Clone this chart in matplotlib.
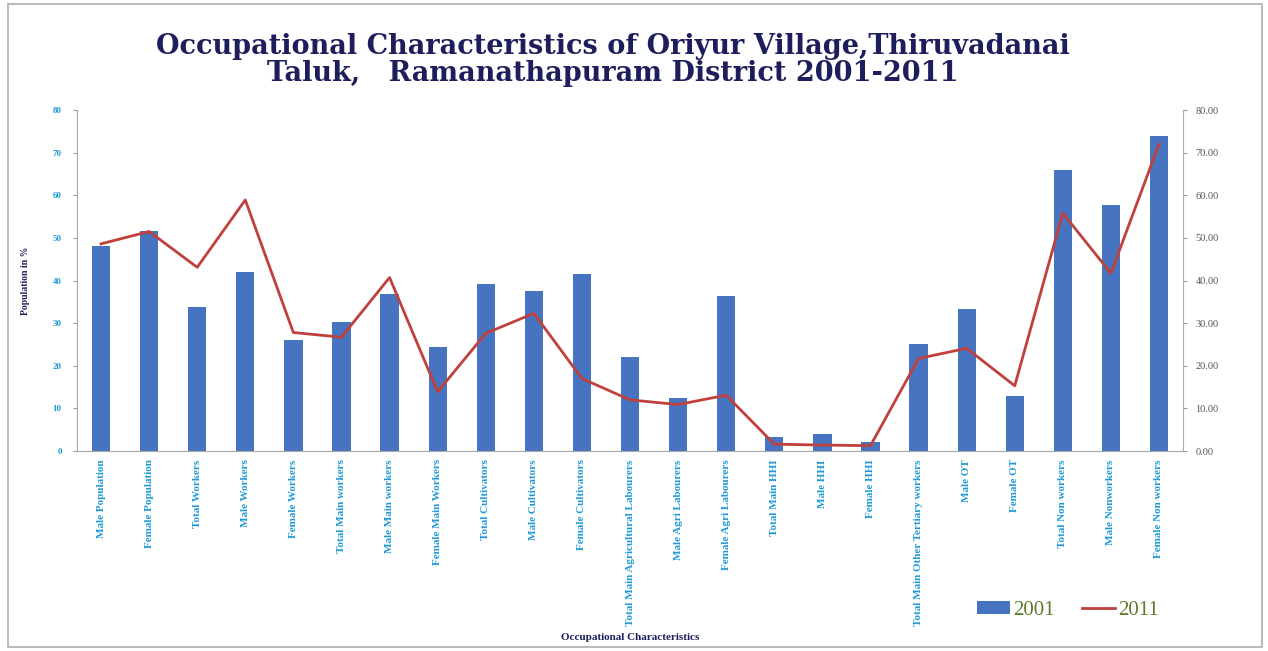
import matplotlib
import numpy as np

matplotlib.use("Agg")
import matplotlib.pyplot as plt
from matplotlib.lines import Line2D
from matplotlib.patches import Patch, Rectangle

CATEGORIES = [
    "Male Population",
    "Female Population",
    "Total Workers",
    "Male Workers",
    "Female Workers",
    "Total Main workers",
    "Male Main workers",
    "Female Main Workers",
    "Total Cultivators",
    "Male Cultivators",
    "Female Cultivators",
    "Total Main Agricultural Labourers",
    "Male Agri Labourers",
    "Female Agri Labourers",
    "Total Main HHI",
    "Male HHI",
    "Female HHI",
    "Total Main Other Tertiary workers",
    "Male OT",
    "Female OT",
    "Total Non workers",
    "Male Nonworkers",
    "Female Non workers",
]

VALUES_2001 = [48.2, 51.6, 33.9, 42.1, 26.0, 30.3, 36.8, 24.3, 39.1, 37.6, 41.5, 22.0,
               12.5, 36.4, 3.2, 3.9, 2.2, 25.1, 33.4, 12.9, 65.9, 57.7, 73.9]
VALUES_2011 = [48.6, 51.5, 43.1, 58.9, 27.8, 26.7, 40.7, 13.9, 27.6, 32.3, 17.0, 12.0,
               10.9, 13.1, 1.6, 1.4, 1.25, 21.7, 24.1, 15.3, 55.8, 41.7, 72.0]

LEFT_TICKS = [0, 10, 20, 30, 40, 50, 60, 70, 80]

BAR_COLOR = "#4674C1"
LINE_COLOR = "#C0403C"
NAVY = "#1C1F5C"
TICK_BLUE = "#1E9AD6"

plt.rcParams["font.family"] = ["Liberation Serif", "DejaVu Serif"]

fig = plt.figure(figsize=(12.68, 6.51), dpi=100)
ax = fig.add_axes([0.0607, 0.3072, 0.8723, 0.5238])
x = np.arange(len(CATEGORIES))

ax.bar(x, VALUES_2001, width=0.38, color=BAR_COLOR, zorder=2)
ax.set_xlim(-0.5, len(CATEGORIES) - 0.5)
ax.set_ylim(0, 80)
ax.set_yticks(LEFT_TICKS)
ax.set_yticklabels([str(t) for t in LEFT_TICKS], fontsize=6.5, color=TICK_BLUE,
                   fontweight="bold")
ax.set_xticks(x)
ax.set_xticklabels(CATEGORIES, rotation=90, fontsize=8, color=TICK_BLUE,
                   fontweight="bold", va="top")
ax.tick_params(axis="x", length=0, pad=6)
ax.tick_params(axis="y", length=3, color="#999999", pad=8)
ax.set_ylabel("Population in %", fontsize=7, color=NAVY, fontweight="bold", labelpad=16)
ax.set_xlabel("Occupational Characteristics", fontsize=8, color=NAVY, fontweight="bold")
ax.xaxis.set_label_coords(0.5, -0.535)
for side in ("top", "right"):
    ax.spines[side].set_visible(False)
for side in ("left", "bottom"):
    ax.spines[side].set_color("#AAAAAA")

ax2 = ax.twinx()
ax2.plot(x, VALUES_2011, color=LINE_COLOR, linewidth=2, zorder=3)
ax2.set_ylim(0, 80)
ax2.set_yticks(LEFT_TICKS)
ax2.set_yticklabels([f"{t:.2f}" for t in LEFT_TICKS], fontsize=7.5, color="#555555")
ax2.tick_params(axis="y", length=3, color="#999999", pad=6)
for side in ("top", "left", "bottom"):
    ax2.spines[side].set_visible(False)
ax2.spines["right"].set_color("#AAAAAA")

fig.text(0.483, 0.908,
         "Occupational Characteristics of Oriyur Village,Thiruvadanai\n"
         "Taluk,   Ramanathapuram District 2001-2011",
         ha="center", va="center", fontsize=19.5, fontweight="bold", color=NAVY,
         family=["DejaVu Serif"], linespacing=1.0)

handles = [Patch(facecolor=BAR_COLOR, label="2001"),
           Line2D([0], [0], color=LINE_COLOR, linewidth=2, label="2011")]
leg = fig.legend(handles=handles, loc="center", bbox_to_anchor=(0.842, 0.062), ncol=2,
                 frameon=False, fontsize=15, handlelength=1.6, handleheight=0.6,
                 columnspacing=1.3, handletextpad=0.15)
for text in leg.get_texts():
    text.set_color("#5E7A2A")

fig.patches.append(Rectangle((0.006, 0.006), 0.989, 0.988, transform=fig.transFigure,
                             fill=False, edgecolor="#BBBBBB", linewidth=1.5))

fig.savefig("out.png", dpi=100)
